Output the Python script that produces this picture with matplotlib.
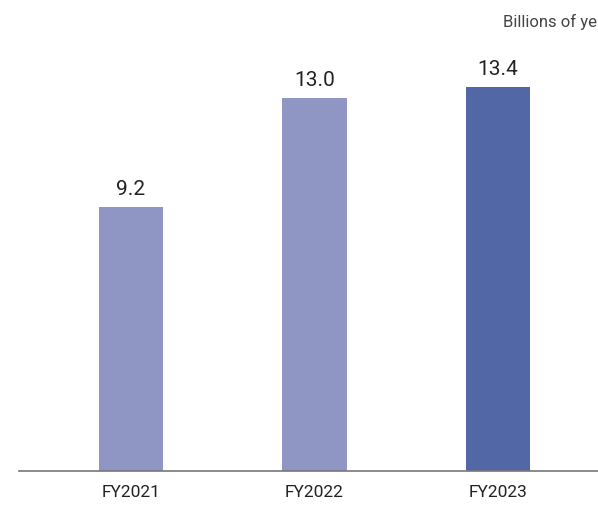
import matplotlib

matplotlib.use("Agg")
import matplotlib.pyplot as plt  # noqa: E402

years = ["FY2021", "FY2022", "FY2023"]
values = [9.2, 13.0, 13.4]
colors = ["#8f96c3", "#8f96c3", "#5167a6"]
unit = "Billions of yen"

plt.rcParams["font.family"] = ["Roboto", "DejaVu Sans"]

fig = plt.figure(figsize=(5.98, 5.05), dpi=100)
ax = fig.add_axes([19 / 598, 34 / 505, 1 - 19 / 598, 441 / 505])

x = list(range(len(years)))
bars = ax.bar(x, values, width=0.35, color=colors)
for b, v in zip(bars, values):
    ax.annotate(f"{v:.1f}", (b.get_x() + b.get_width() / 2, v),
                textcoords="offset points", xytext=(0, 6),
                ha="center", va="bottom", fontsize=15, color="#222222")

ax.set_xlim(-0.61, 2.545)
ax.set_ylim(0, 15.39)
ax.set_xticks(x)
ax.set_xticklabels(years, fontsize=12.5, color="#222222")
ax.tick_params(axis="x", length=0, pad=10)
ax.set_yticks([])
for s in ["top", "right", "left"]:
    ax.spines[s].set_visible(False)
ax.spines["bottom"].set_color("#777777")
ax.spines["bottom"].set_linewidth(1.2)

# unit label runs off the right edge, as in the source
fig.text(503 / 598, 1 - 22 / 505, unit, ha="left", va="center",
         fontsize=12, color="#444444")

fig.savefig("out.png", dpi=100, bbox_inches=None)
